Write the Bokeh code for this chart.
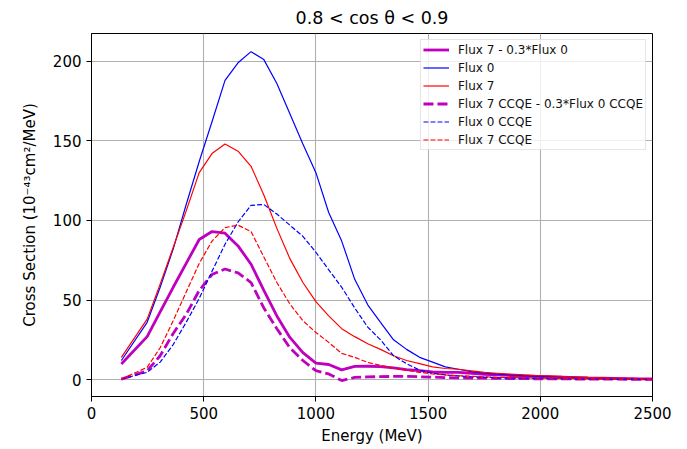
from bokeh.plotting import figure
from bokeh.models import Range1d, Legend, LegendItem, FixedTicker
from bokeh.embed import file_html
from bokeh.resources import INLINE

energy = [133, 248, 306, 364, 422, 480, 537, 595, 653, 711, 768, 826, 884, 942, 1000,
          1057, 1115, 1173, 1231, 1288, 1346, 1404, 1462, 1520, 1577, 1635, 1693, 1751,
          1808, 1866, 1924, 1982, 2040, 2097, 2155, 2213, 2271, 2328, 2386, 2444, 2500]

flux0 = [12, 36, 58, 82, 110, 137, 162, 188, 199, 206, 201, 186, 167, 148, 130,
         105, 87, 63, 47, 36, 25, 19, 14, 11, 8, 6.5, 5, 4, 3.5, 3, 2.5, 2.2, 2, 1.7,
         1.4, 1.2, 1, 0.8, 0.6, 0.5, 0.4]

flux7 = [14, 38, 60, 83, 106, 130, 142, 148, 143.5, 134, 116, 95, 76, 61, 49,
         40, 32, 27, 22.5, 19, 15, 12, 10, 8, 7, 6.5, 5.5, 4.5, 4, 3.5, 3, 2.6, 2.3, 2,
         1.7, 1.4, 1.2, 1, 0.8, 0.6, 0.5]

flux_diff = [9.8, 27, 42.5, 58, 73, 88, 93, 92, 84, 72.5, 56, 40, 26.5, 17, 10.4,
             9.5, 6.1, 8.3, 8.4, 8.2, 7.4, 6.3, 5.7, 4.8, 4.6, 4.5, 4, 3.3, 3, 2.6,
             2.3, 2, 1.7, 1.5, 1.3, 1.05, 0.9, 0.75, 0.6, 0.45, 0.4]

flux0_ccqe = [0.4, 4.6, 11, 22, 36, 51, 68, 85, 99, 109.5, 110, 104, 97, 90, 80,
              69, 58, 45, 33, 25, 15, 10, 6, 4, 3, 2.3, 1.8, 1.5, 1.2, 1, 0.9, 0.8,
              0.7, 0.6, 0.5, 0.45, 0.4, 0.35, 0.3, 0.25, 0.2]

flux7_ccqe = [0.4, 7.7, 20, 37, 55, 73, 87, 95.5, 97, 93, 77, 61, 47.5, 37, 29.6,
              23.4, 16.5, 14, 10.8, 9, 7.2, 5.8, 4.6, 3.6, 3, 2.5, 2.1, 1.8, 1.5, 1.3,
              1.1, 1, 0.9, 0.8, 0.7, 0.6, 0.5, 0.45, 0.4, 0.3, 0.25]

diff_ccqe = [0.3, 5.5, 15, 29, 41, 56, 66, 69.5, 67, 61, 45, 32, 20, 12, 5.6,
             3.6, -0.6, 1.4, 1.7, 1.9, 2, 2, 1.8, 1.6, 1.3, 1.1, 1, 0.9, 0.8, 0.7,
             0.6, 0.55, 0.5, 0.45, 0.4, 0.35, 0.3, 0.3, 0.25, 0.2, 0.2]

labels = ["Flux 7 - 0.3*Flux 0", "Flux 0", "Flux 7",
          "Flux 7 CCQE - 0.3*Flux 0 CCQE", "Flux 0 CCQE", "Flux 7 CCQE"]
x_ticks = [0, 500, 1000, 1500, 2000, 2500]
y_ticks = [0, 50, 100, 150, 200]

FONT = "DejaVu Sans"

p = figure(width=687, height=449, output_backend="svg", toolbar_location=None,
           x_range=Range1d(0, 2500), y_range=Range1d(-10.6, 217.4),
           min_border_left=91, min_border_right=35, min_border_top=32,
           min_border_bottom=53)

p.title.text = "0.8 < cos θ < 0.9"
p.title.align = "center"
p.title.text_font = FONT
p.title.text_font_size = "17.5px"
p.title.text_font_style = "normal"
p.title.text_color = "black"
p.title.standoff = 11

MAG = "#bf00bf"
BLUE = "#0000ff"
RED = "#ff0000"

r1 = p.line(energy, flux_diff, line_color=MAG, line_width=2.8)
r2 = p.line(energy, flux0, line_color=BLUE, line_width=1.2)
r3 = p.line(energy, flux7, line_color=RED, line_width=1.2)
r4 = p.line(energy, diff_ccqe, line_color=MAG, line_width=2.8, line_dash="10 4")
r5 = p.line(energy, flux0_ccqe, line_color=BLUE, line_width=1.2, line_dash="5 2")
r6 = p.line(energy, flux7_ccqe, line_color=RED, line_width=1.2, line_dash="5 2")

legend = Legend(items=[LegendItem(label=l, renderers=[r]) for l, r in
                       zip(labels, [r1, r2, r3, r4, r5, r6])],
                location="top_right")
legend.label_text_font = FONT
legend.label_text_font_size = "12px"
legend.label_text_color = "#111111"
legend.glyph_width = 26
legend.glyph_height = 15
legend.label_height = 15
legend.label_standoff = 9
legend.spacing = 3
legend.padding = 2
legend.margin = 6
legend.border_line_color = "#cccccc"
legend.border_line_width = 1
legend.background_fill_alpha = 0.8
p.add_layout(legend)

p.xaxis.ticker = FixedTicker(ticks=x_ticks)
p.yaxis.ticker = FixedTicker(ticks=y_ticks)
p.xaxis.axis_label = "Energy (MeV)"
p.yaxis.axis_label = "Cross Section (10⁻⁴³cm²/MeV)"
for ax in (p.xaxis, p.yaxis):
    ax.axis_label_text_font = FONT
    ax.axis_label_text_font_size = "15px"
    ax.axis_label_text_font_style = "normal"
    ax.axis_label_text_color = "black"
    ax.major_label_text_font = FONT
    ax.major_label_text_font_size = "15px"
    ax.major_label_text_color = "black"
    ax.minor_tick_line_color = None
    ax.major_tick_out = 5
    ax.major_tick_in = 0
    ax.axis_line_color = "black"
    ax.major_tick_line_color = "black"
p.xaxis.axis_label_standoff = 5
p.yaxis.axis_label_standoff = 11

p.grid.grid_line_color = "#b0b0b0"
p.grid.grid_line_width = 1.1
p.outline_line_color = "black"
p.outline_line_width = 1
p.outline_line_alpha = 1

open("out.html", "w").write(file_html(p, INLINE))
